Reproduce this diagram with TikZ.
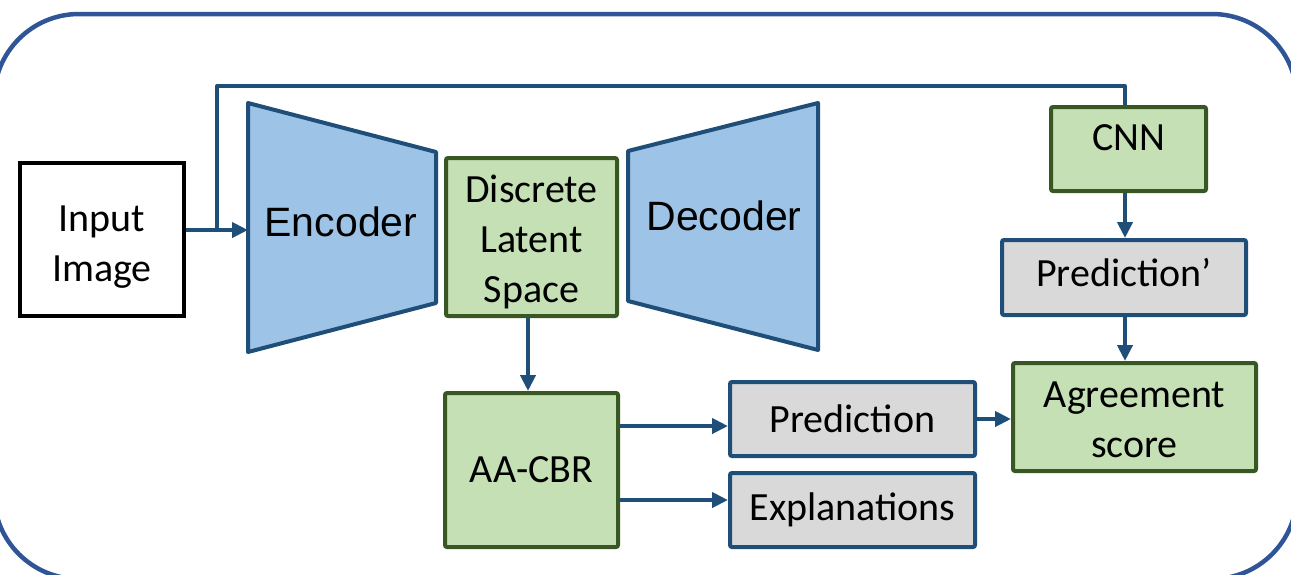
\documentclass[tikz,border=0pt]{standalone}
\usepackage{fontspec}
\setmainfont{Carlito}
\newfontfamily\arialfont{Liberation Sans}
\usetikzlibrary{arrows.meta,calc}

\definecolor{framecol}{RGB}{47,85,151}
\definecolor{blueline}{RGB}{31,78,121}
\definecolor{funnelfill}{RGB}{157,195,230}
\definecolor{greenfill}{RGB}{197,224,180}
\definecolor{greenline}{RGB}{56,87,35}
\definecolor{grayfill}{RGB}{217,217,217}

\tikzset{
  box/.style={draw, line width=4pt, rounded corners=2pt, align=center, inner sep=0pt,
    font=\fontsize{40}{50}\selectfont},
  greenbox/.style={box, draw=greenline, fill=greenfill},
  graybox/.style={box, draw=blueline, fill=grayfill},
  plainbox/.style={box, draw=black, rounded corners=0pt},
  funnel/.style={draw=blueline, fill=funnelfill, line width=4pt, line join=round},
  funneltext/.style={font=\arialfont\fontsize{41}{49}\selectfont, inner sep=0pt},
  boxtext/.style={font=\fontsize{40}{50}\selectfont, inner sep=0pt, align=center},
  link/.style={draw=blueline, line width=4pt},
  arr/.style={link, -{Triangle[length=16pt,width=15pt]}},
}

\begin{document}
\begin{tikzpicture}[x=1pt,y=-1pt]
\useasboundingbox (0,0) rectangle (1291,574);

% outer frame
\draw[framecol, line width=4.5pt, rounded corners=85pt] (-6,14) rectangle (1297,579);

% input
\node[plainbox, minimum width=164pt, minimum height=153pt] (in) at (102,239.5) {};
\node[boxtext] (inlabel) at (102,247) {Input\\Image};

% encoder / decoder funnels
\coordinate (e1) at (248,103);
\coordinate (e2) at (436,152);
\coordinate (e3) at (436,303);
\coordinate (e4) at (248,352);
\draw[funnel] (e1) -- (e2) -- (e3) -- (e4) -- cycle;
\node[funneltext] (enc) at (341,222) {Encoder};
\coordinate (encin) at (248,230);

\coordinate (d1) at (628,151);
\coordinate (d2) at (818,103);
\coordinate (d3) at (818,350);
\coordinate (d4) at (628,301);
\draw[funnel] (d1) -- (d2) -- (d3) -- (d4) -- cycle;
\node[funneltext] (dec) at (724,216) {Decoder};

% boxes
\node[greenbox, minimum width=171pt, minimum height=158pt] (dls) at (531.5,237) {};
\node[boxtext] (dlslabel) at (531.5,242) {Discrete\\Latent\\Space};
\node[greenbox, minimum width=173pt, minimum height=154pt] (aacbr) at (531.5,470) {AA-CBR};
\node[graybox, minimum width=245pt, minimum height=74pt] (pred) at (852.5,419) {Prediction};
\node[graybox, minimum width=245pt, minimum height=74pt] (expl) at (852.5,510) {Explanations};
\node[greenbox, minimum width=155pt, minimum height=84pt] (cnn) at (1128.5,149) {};
\node[boxtext] (cnnlabel) at (1128.5,138) {CNN};
\node[graybox, minimum width=244pt, minimum height=75pt] (pred2) at (1124,277.5) {};
\node[boxtext] (pred2label) at (1124,273) {Prediction’};
\node[greenbox, minimum width=243pt, minimum height=108pt] (agree) at (1134.5,417) {};
\node[boxtext] (agreelabel) at (1134.5,420) {Agreement\\score};

% connectors
\coordinate (split) at (217,230);
\coordinate (topl) at (217,86);
\coordinate (topr) at (1125,86);
\draw[arr] (in.east |- encin) -- (encin);
\draw[link, line join=round] (split) -- (topl) -- (topr) -- (topr |- cnn.north);
\draw[arr] (dls.south -| 528,0) -- (aacbr.north -| 528,0);
\draw[arr] ([yshift=-7pt]aacbr.east |- pred.west) -- ([yshift=-7pt]pred.west);
\draw[arr] ([yshift=10pt]aacbr.east |- expl.west) -- ([yshift=10pt]expl.west);
\draw[arr] (pred.east) -- (agree.west |- pred.east);
\draw[arr] (cnn.south -| topr) -- (pred2.north -| topr);
\draw[arr] (pred2.south -| topr) -- (agree.north -| topr);
\end{tikzpicture}
\end{document}
